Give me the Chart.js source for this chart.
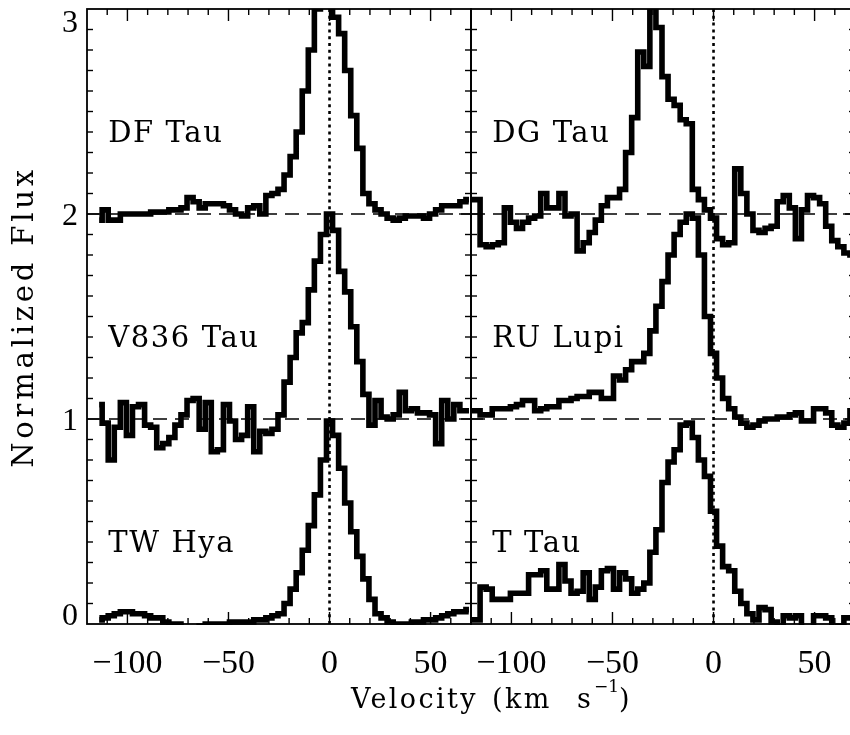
<!DOCTYPE html>
<html><head><meta charset="utf-8">
<script src="https://cdn.jsdelivr.net/npm/chart.js@4/dist/chart.umd.min.js"></script>
<style>
html,body{margin:0;padding:0;background:#fff;overflow:hidden;width:850px;height:735px;}
canvas{position:absolute;left:0;top:0;}
</style></head><body>
<canvas id="cl" width="850" height="735"></canvas>
<canvas id="cr" width="860" height="735"></canvas>
<script>
// ---------- data ----------
const VEL_L = [-114,-111,-108,-105,-102,-99,-96,-93,-90,-87,
  -84,-81,-78,-75,-72,-69,-66,-63,-60,-57,
  -54,-51,-48,-45,-42,-39,-36,-33,-30,-27,
  -24,-21,-18,-15,-12,-9,-6,-3,0,3,
  6,9,12,15,18,21,24,27,30,33,
  36,39,42,45,48,51,54,57,60,63,
  66,69];
const DF_TAU = [1.97,2.02,1.97,1.97,2.00,2.00,2.00,2.00,2.00,2.01,
  2.01,2.01,2.02,2.02,2.03,2.08,2.06,2.03,2.05,2.05,
  2.05,2.04,2.02,2.00,1.99,2.03,2.04,2.00,2.09,2.10,
  2.12,2.19,2.28,2.40,2.60,2.80,3.00,3.02,3.02,2.96,
  2.88,2.70,2.48,2.32,2.10,2.05,2.02,2.00,1.98,1.97,
  1.98,1.99,1.99,1.99,1.98,2.00,2.02,2.04,2.04,2.04,
  2.06,2.07];
const V836_TAU = [1.07,0.98,0.80,0.96,1.08,0.92,1.06,1.07,0.97,0.96,
  0.86,0.88,0.91,0.97,1.02,1.09,1.10,0.95,1.08,0.84,
  0.85,1.07,0.99,0.90,0.92,1.06,0.84,0.94,0.93,0.95,
  1.02,1.18,1.30,1.42,1.47,1.63,1.77,1.90,2.00,1.92,
  1.72,1.62,1.45,1.28,1.12,0.97,1.09,1.01,1.00,1.02,
  1.13,1.04,1.05,1.03,1.03,1.02,0.88,1.09,1.00,1.07,
  1.04,1.04];
const TW_HYA = [0.02,0.03,0.04,0.05,0.06,0.06,0.05,0.05,0.04,0.03,
  0.03,0.01,0.00,0.00,-0.02,-0.03,-0.02,-0.01,0.00,0.00,
  0.00,0.00,0.01,0.01,0.01,0.01,0.02,0.02,0.03,0.04,
  0.05,0.10,0.17,0.25,0.36,0.48,0.63,0.80,0.99,0.92,
  0.76,0.59,0.45,0.33,0.22,0.12,0.05,0.03,0.01,0.00,
  0.00,0.00,0.01,0.01,0.02,0.02,0.03,0.04,0.05,0.06,
  0.06,0.07];

const VEL_R = [-120,-117,-114,-111,-108,-105,-102,-99,-96,-93,
  -90,-87,-84,-81,-78,-75,-72,-69,-66,-63,
  -60,-57,-54,-51,-48,-45,-42,-39,-36,-33,
  -30,-27,-24,-21,-18,-15,-12,-9,-6,-3,
  0,3,6,9,12,15,18,21,24,27,
  30,33,36,39,42,45,48,51,54,57,
  60,63,66,69];
const DG_TAU = [2.07,2.07,1.85,1.84,1.85,1.86,2.03,1.96,1.93,1.96,
  1.98,1.99,2.10,2.03,2.03,2.10,1.99,2.00,1.82,1.86,
  1.91,1.97,2.04,2.08,2.08,2.12,2.30,2.47,2.79,2.72,
  3.05,2.91,2.67,2.56,2.53,2.46,2.44,2.12,2.07,2.02,
  1.98,1.88,1.85,1.86,2.22,2.10,2.00,1.92,1.91,1.93,
  1.94,2.06,2.09,2.03,1.88,2.02,2.09,2.08,2.05,1.94,
  1.87,1.84,1.81,1.80];
const RU_LUPI = [1.04,1.04,1.02,1.02,1.05,1.05,1.05,1.06,1.07,1.09,
  1.09,1.04,1.05,1.06,1.06,1.09,1.09,1.10,1.11,1.11,
  1.13,1.13,1.10,1.10,1.21,1.19,1.24,1.28,1.28,1.32,
  1.43,1.55,1.67,1.80,1.90,1.96,2.00,1.98,1.80,1.50,
  1.32,1.20,1.10,1.05,1.01,0.98,0.96,0.97,0.99,1.00,
  1.00,1.01,1.01,1.02,1.03,0.99,0.99,1.05,1.05,1.03,
  0.97,0.96,0.98,1.04];
const T_TAU = [0.02,0.02,0.18,0.17,0.12,0.12,0.12,0.15,0.15,0.15,
  0.24,0.24,0.26,0.17,0.17,0.29,0.21,0.15,0.16,0.25,
  0.12,0.18,0.26,0.27,0.17,0.25,0.22,0.15,0.17,0.20,
  0.35,0.46,0.69,0.79,0.85,0.97,0.98,0.91,0.80,0.72,
  0.55,0.38,0.28,0.26,0.16,0.10,0.05,0.02,0.08,0.07,
  0.01,-0.02,0.04,0.03,0.04,-0.02,-0.02,0.04,0.04,0.03,
  -0.02,-0.01,0.03,0.03];

const NAMES_L = ['DF Tau','V836 Tau','TW Hya'];
const NAMES_R = ['DG Tau','RU Lupi','T Tau'];
const NAME_LEVELS = [2,1,0];
const X_TICK_LABELS = [-100,-50,0,50];
const Y_TICK_LABELS = [0,1,2,3];
const REF_LEVELS = [1,2];
const X_MIN = -120, X_MAX = 70, Y_MIN = 0, Y_MAX = 3;

// ---------- drawing ----------
function fitText(ctx, text, x, y, spacing){
  if ('letterSpacing' in ctx) ctx.letterSpacing = spacing + 'px';
  ctx.fillText(text, x, y);
  if ('letterSpacing' in ctx) ctx.letterSpacing = '0px';
}
function seg(ctx,x1,y1,x2,y2){ctx.beginPath();ctx.moveTo(x1,y1);ctx.lineTo(x2,y2);ctx.stroke();}

function framePlugin(showY, names){
  return {
    id:'frame',
    afterDatasetsDraw(chart){
      const ctx = chart.ctx, a = chart.chartArea, x = chart.scales.x, y = chart.scales.y;
      ctx.save();
      ctx.strokeStyle = '#000'; ctx.fillStyle = '#000';
      ctx.lineWidth = 1.8;
      ctx.strokeRect(a.left, a.top, a.right - a.left, a.bottom - a.top);
      ctx.lineWidth = 1.4;
      for (let v = -110; v <= 70; v += 10){
        if (v <= X_MIN || v >= X_MAX) continue;
        const px = x.getPixelForValue(v);
        const L = (v % 50 === 0) ? 12 : 6;
        seg(ctx, px, a.top, px, a.top + L);
        seg(ctx, px, a.bottom, px, a.bottom - L);
      }
      for (let k = 1; k < 30; k++){
        const py = y.getPixelForValue(k / 10);
        const L = (k % 10 === 0) ? 12 : 6;
        seg(ctx, a.left, py, a.left + L, py);
        seg(ctx, a.right, py, a.right - L, py);
      }
      // x tick labels
      ctx.font = '34px "Liberation Serif"';
      ctx.textAlign = 'center'; ctx.textBaseline = 'alphabetic';
      X_TICK_LABELS.forEach(v => {
        const s = (v < 0 ? '\u2212' + Math.abs(v) : String(v));
        ctx.fillText(s, x.getPixelForValue(v), a.bottom + 49);
      });
      if (showY){
        ctx.font = '32px "Liberation Serif"';
        ctx.textAlign = 'right';
        Y_TICK_LABELS.forEach(v => {
          const py = y.getPixelForValue(v);
          const b = Math.min(Math.max(py + 11, a.top + 23), a.bottom + 1);
          ctx.fillText(String(v), a.left - 9, b);
        });
      }
      // star names
      ctx.font = '29px "DejaVu Serif"';
      ctx.textAlign = 'left';
      names.forEach((n, i) => {
        fitText(ctx, n, x.getPixelForValue(-110) + 1, y.getPixelForValue(NAME_LEVELS[i] + 0.35), 1.6);
      });
      ctx.restore();
    }
  };
}

function refSets(){
  const sets = REF_LEVELS.map(l => ({
    data:[{x:X_MIN,y:l},{x:X_MAX,y:l}], borderColor:'#000', borderWidth:1.5,
    borderDash:[14,8], pointRadius:0, order:10, clip:0
  }));
  sets.push({data:[{x:0,y:Y_MIN},{x:0,y:Y_MAX}], borderColor:'#000', borderWidth:2.6,
    borderDash:[3,3.8], pointRadius:0, order:10, clip:0});
  return sets;
}

function makeChart(id, vel, series, pad, showY, names){
  const ds = series.map(s => ({
    data: vel.map((v,i) => ({x:v, y:s[i]})),
    borderColor:'#000', borderWidth:5.6, stepped:'middle', pointRadius:0,
    fill:false, borderJoinStyle:'miter', borderCapStyle:'butt', order:1,
    clip:{left:0,right:0,top:0,bottom:1}
  }));
  return new Chart(document.getElementById(id), {
    type:'line',
    data:{datasets: ds.concat(refSets())},
    options:{
      responsive:false, devicePixelRatio:1, animation:false, events:[],
      layout:{padding:pad},
      scales:{
        x:{type:'linear', min:X_MIN, max:X_MAX, display:false},
        y:{type:'linear', min:Y_MIN, max:Y_MAX, display:false}
      },
      plugins:{legend:{display:false}, tooltip:{enabled:false}}
    },
    plugins:[framePlugin(showY, names)]
  });
}

makeChart('cl', VEL_L, [DF_TAU, V836_TAU, TW_HYA], {left:87,right:379,top:9,bottom:111}, true, NAMES_L);
makeChart('cr', VEL_R, [DG_TAU, RU_LUPI, T_TAU], {left:471,right:5,top:9,bottom:111}, false, NAMES_R);

// axis titles
(function(){
  const c = document.createElement('canvas');
  c.width = 850; c.height = 735; document.body.appendChild(c);
  const ctx = c.getContext('2d');
  ctx.fillStyle = '#000';
  ctx.textAlign = 'left'; ctx.textBaseline = 'alphabetic';
  ctx.font = '27px "DejaVu Serif"';
  fitText(ctx, 'Velocity', 351, 708, 2.4);
  fitText(ctx, '(km', 492, 708, 2.4);
  fitText(ctx, 's', 577, 708, 0);
  ctx.font = '17px "DejaVu Serif"';
  fitText(ctx, '\u22121', 594, 692, 0);
  ctx.font = '27px "DejaVu Serif"';
  fitText(ctx, ')', 619, 708, 0);
  ctx.save();
  ctx.translate(33, 317);
  ctx.rotate(-Math.PI/2);
  ctx.font = '29px "DejaVu Serif"';
  ctx.textAlign = 'center';
  fitText(ctx, 'Normalized Flux', 0, 0, 3.8);
  ctx.restore();
})();
</script>
</body></html>
